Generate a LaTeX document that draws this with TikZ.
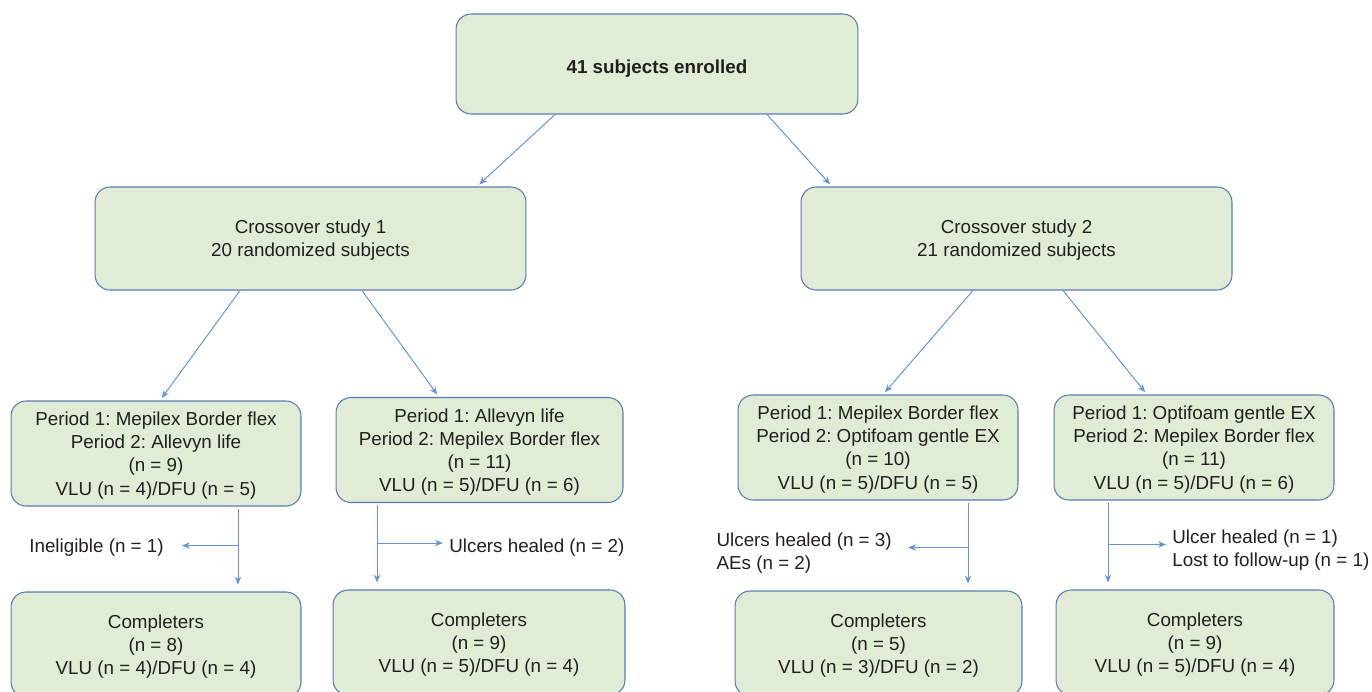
\documentclass[tikz,border=0pt]{standalone}
\usepackage{fontspec}
\setmainfont{Liberation Sans}
\usetikzlibrary{arrows.meta,calc}
\frenchspacing

\begin{document}
\begin{tikzpicture}[x=0.02cm,y=-0.02cm,>={Stealth[length=4.5pt,width=3.6pt]},
 font=\fontsize{10.7}{13.2}\selectfont]
\definecolor{boxfill}{RGB}{224,236,214}
\definecolor{boxline}{RGB}{88,124,178}
\definecolor{linkblue}{RGB}{100,146,212}
\definecolor{ink}{RGB}{35,31,32}
\tikzset{
 box/.style={draw=boxline,fill=boxfill,rounded corners=0.3cm,align=center,
  inner sep=0pt,line width=0.6pt,text=ink,text depth=-1.2pt},
 link/.style={->,draw=linkblue,line width=0.55pt},
 note/.style={align=left,inner sep=0pt,text=ink}
}
% Canvas in pixels of the original figure; bottom row runs off the edge.
\useasboundingbox (0,0) rectangle (1372,691);
\clip (0,0) rectangle (1372,691);

\node[box,minimum width=8.04cm,minimum height=2cm,text depth=,
 execute at begin node={\rule{0pt}{13pt}}] (enrol) at (657,64)
 {\bfseries 41 subjects enrolled};
\node[box,minimum width=8.62cm,minimum height=2.06cm,text depth=-3pt] (cs1) at (310.5,238.5)
 {Crossover study 1\\20 randomized subjects};
\node[box,minimum width=8.62cm,minimum height=2.06cm,text depth=-3pt] (cs2) at (1016.5,238.5)
 {Crossover study 2\\21 randomized subjects};

% Treatment sequences
\node[box,minimum width=5.8cm,minimum height=2.1cm] (p1) at (156,453.5)
 {Period 1: Mepilex Border flex\\Period 2: Allevyn life\\(n = 9)\\VLU (n = 4)/DFU (n = 5)};
\node[box,minimum width=5.74cm,minimum height=2.1cm] (p2) at (479.5,450)
 {Period 1: Allevyn life\\Period 2: Mepilex Border flex\\(n = 11)\\VLU (n = 5)/DFU (n = 6)};
\node[box,minimum width=5.6cm,minimum height=2.1cm,text depth=-2pt] (p3) at (878,447.5)
 {Period 1: Mepilex Border flex\\Period 2: Optifoam gentle EX\\(n = 10)\\VLU (n = 5)/DFU (n = 5)};
\node[box,minimum width=5.6cm,minimum height=2.1cm,text depth=-2pt] (p4) at (1194,447.5)
 {Period 1: Optifoam gentle EX\\Period 2: Mepilex Border flex\\(n = 11)\\VLU (n = 5)/DFU (n = 6)};

% Completers
\node[box,minimum width=5.8cm,minimum height=2.1cm] (c1) at (156,644.5)
 {Completers\\(n = 8)\\VLU (n = 4)/DFU (n = 4)};
\node[box,minimum width=5.84cm,minimum height=2.1cm] (c2) at (479,642.5)
 {Completers\\(n = 9)\\VLU (n = 5)/DFU (n = 4)};
\node[box,minimum width=5.74cm,minimum height=2.1cm] (c3) at (878.5,643.5)
 {Completers\\(n = 5)\\VLU (n = 3)/DFU (n = 2)};
\node[box,minimum width=5.56cm,minimum height=2.1cm] (c4) at (1195,642.5)
 {Completers\\(n = 9)\\VLU (n = 5)/DFU (n = 4)};

% Dropouts
\node[note,anchor=east] (out1) at (164,548) {Ineligible (n = 1)};
\node[note,anchor=west] (out2) at (449,548) {Ulcers healed (n = 2)};
\node[note,anchor=east] (out3) at (892,553) {Ulcers healed (n = 3)\\AEs (n = 2)};
\node[note,anchor=west] (out4) at (1172,550) {Ulcer healed (n = 1)\\Lost to follow-up (n = 1)};

\draw[link,shorten >=0.06cm] ($(enrol.south)+(-102,0)$) -- ($(cs1.north)+(166.5,0)$);
\draw[link,shorten >=0.06cm] ($(enrol.south)+(110,0)$) -- ($(cs2.north)+(-184.5,0)$);
\draw[link,shorten >=0.06cm] ($(cs1.south)+(-70.5,0)$) -- ($(p1.north)+(4,0)$);
\draw[link,shorten >=0.06cm] ($(cs1.south)+(51.5,0)$) -- ($(p2.north)+(-40.5,0)$);
\draw[link,shorten >=0.06cm] ($(cs2.south)+(-43.5,0)$) -- ($(p3.north)+(5,0)$);
\draw[link,shorten >=0.06cm] ($(cs2.south)+(46.5,0)$) -- ($(p4.north)+(-47,0)$);

\coordinate (j1) at ($(p1.south)+(82,39)$);
\coordinate (j2) at ($(p2.south)+(-102.5,40)$);
\coordinate (j3) at ($(p3.south)+(90,47)$);
\coordinate (j4) at ($(p4.south)+(-86,44)$);
\foreach \k in {1,2,3,4}{
 \draw[link,-,shorten <=0.04cm] (p\k.south -| j\k) -- (j\k);
 \draw[link,shorten >=0.14cm] (j\k) -- (c\k.north -| j\k);
}
\draw[link,shorten >=0.36cm] (j1) -- (j1 -| out1.east);
\draw[link,shorten >=0.12cm] (j2) -- (j2 -| out2.west);
\draw[link,shorten >=0.32cm] (j3) -- (j3 -| out3.east);
\draw[link,shorten >=0.12cm] (j4) -- (j4 -| out4.west);
\end{tikzpicture}
\end{document}
